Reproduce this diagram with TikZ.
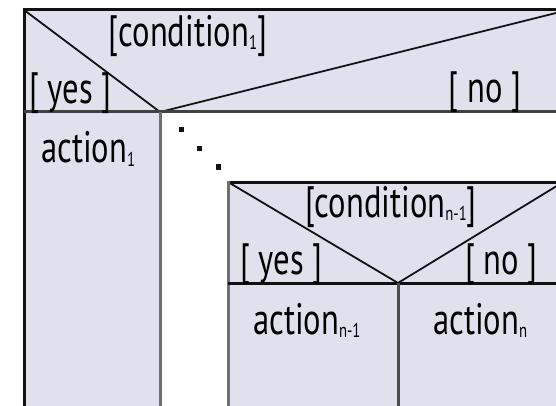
\documentclass[tikz,border=0pt]{standalone}
\usepackage{fontspec}
\setmainfont[FakeStretch=0.74]{PT Sans}
\usepackage{tikz}
\usetikzlibrary{positioning}
\definecolor{panel}{HTML}{E1E1EE}
\definecolor{edge}{HTML}{111111}
\definecolor{rule}{HTML}{707070}
\tikzset{
  band/.style={fill=panel, draw=none},
  frame/.style={line width=3pt, color=edge},
  divider/.style={line width=3pt, color=rule},
  slash/.style={line width=1.8pt, color=edge},
  guard/.style={font=\fontsize{44}{50}\selectfont, inner sep=0pt},
  deed/.style={guard, anchor=base west},
  dotmark/.style={fill=edge, minimum size=5pt, inner sep=0pt}
}
\newcommand{\idx}[1]{\raisebox{-3pt}{\fontsize{20}{20}\selectfont #1}}

\begin{document}
\begin{tikzpicture}[x=1pt, y=-1pt]
  \useasboundingbox (0,0) rectangle (556,406);
  \clip (0,0) rectangle (556,406);

  % outer decision
  \fill[band] (24,10) rectangle (560,112);
  \fill[band] (24,112) rectangle (160,410);
  \draw[slash] (24,10) -- (160,112) -- (560,12);
  \draw[frame] (24,10) -- (560,10);
  \draw[frame] (24,8.5) -- (24,410);
  \draw[divider, color=edge!80] (24,112) -- (560,112);
  \draw[divider] (160,112) -- (160,410);

  \node[guard] (cond1) at (188,35.5) {[condition\idx{1}]};
  \node[guard] (yes1) at (70.5,93.5) {[ yes ]};
  \node[guard] (no1) at (485,92) {[ no ]};
  \node[deed] (act1) at (41,163) {action\idx{1}};

  % ellipsis
  \node[dotmark] (d1) at (181,130) {};
  \node[dotmark] (d2) at (199,149) {};
  \node[dotmark] (d3) at (218,167) {};

  % inner decision
  \fill[band] (228,182) rectangle (560,410);
  \draw[slash] (228,182) -- (398,283) -- (560,184);
  \draw[frame] (228,182) -- (560,182);
  \draw[divider] (228,180.5) -- (228,410);
  \draw[frame] (228,283) -- (560,283);
  \draw[divider, color=edge!75] (398,283) -- (398,410);

  \node[guard] (condn) at (391,206.5) {[condition\idx{n-1}]};
  \node[guard] (yesn) at (281.5,264.5) {[ yes ]};
  \node[guard] (non) at (501.5,264.5) {[ no ]};
  \node[deed] (actm) at (253,334) {action\idx{n-1}};
  \node[deed] (actn) at (433,334) {action\idx{n}};
\end{tikzpicture}
\end{document}
